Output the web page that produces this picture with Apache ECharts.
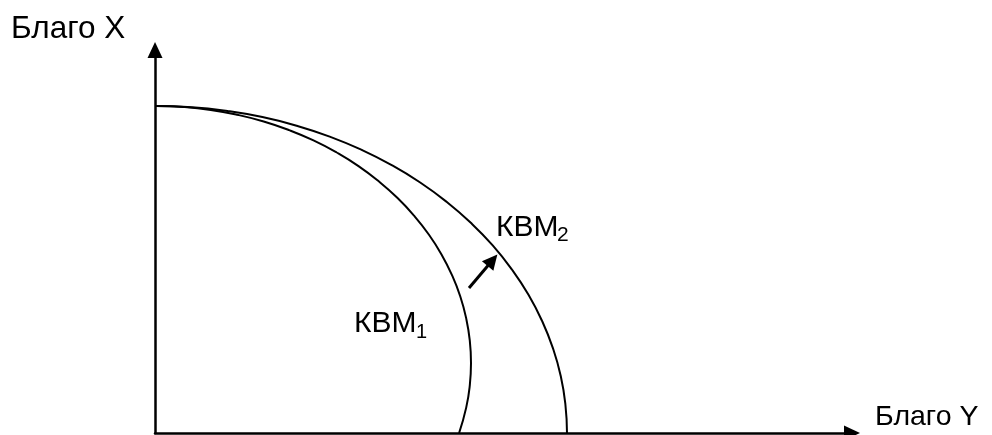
<!DOCTYPE html>
<html>
<head>
<meta charset="utf-8">
<script src="https://cdn.jsdelivr.net/npm/echarts@6/dist/echarts.min.js"></script>
<style>html,body{margin:0;padding:0;background:#fff;}#c{width:992px;height:435px;}</style>
</head>
<body>
<div id="c"></div>
<script>
// Curve КВМ1 (inner): [good Y, good X]
const curve1 = [[1,327],[28.5,326.0],[55.7,323.1],[82.5,318.2],[108.7,311.5],[134.1,302.9],[158.5,292.6],[181.7,280.5],[203.5,266.9],[223.7,251.7],[242.3,235.2],[259.0,217.4],[273.8,198.5],[286.5,178.6],[297.0,157.9],[305.3,136.5],[311.2,114.6],[314.8,92.4],[316,70],[314.8,47.6],[311.2,25.4],[304.1,0]];
// Curve КВМ2 (outer)
const curve2 = [[1,327],[36.8,325.8],[72.4,322.0],[107.4,315.9],[141.6,307.3],[174.7,296.4],[206.5,283.2],[236.7,267.9],[265.2,250.5],[291.6,231.2],[315.8,210.2],[337.7,187.6],[356.9,163.5],[373.5,138.2],[387.2,111.8],[398.0,84.6],[405.8,56.8],[410.4,28.5],[412,0]];
// Shift arrow from КВМ1 to КВМ2
const shiftArrow = [[314,145],[337.5,172.7]];
const axisMax = {x: 697, y: 383};
const labels = {xAxis: 'Благо Y', yAxis: 'Благо X', c1: 'КВМ', c1sub: '1', c2: 'КВМ', c2sub: '2'};

const chart = echarts.init(document.getElementById('c'));
const font = '"Liberation Sans", Arial, sans-serif';
const axisCommon = {
  type: 'value', min: 0,
  axisLine: {show: true, onZero: false, lineStyle: {color: '#000', width: 2.5}, symbol: ['none', 'triangle'], symbolSize: [15, 16]},
  axisTick: {show: false}, axisLabel: {show: false}, splitLine: {show: false}
};
function txt(text, x, y, size) {
  return {type: 'text', x: x, y: y, style: {text: text, fontSize: size, fontFamily: font, fill: '#000', align: 'left', verticalAlign: 'middle'}};
}
chart.setOption({
  animation: false,
  backgroundColor: '#fff',
  grid: {left: 155, right: 140, top: 50, bottom: 2},
  xAxis: Object.assign({}, axisCommon, {max: axisMax.x}),
  yAxis: Object.assign({}, axisCommon, {max: axisMax.y}),
  series: [
    {type: 'line', data: curve1, smooth: true, symbol: 'none', lineStyle: {color: '#000', width: 2}},
    {type: 'line', data: curve2, smooth: true, symbol: 'none', lineStyle: {color: '#000', width: 2}},
    {type: 'lines', coordinateSystem: 'cartesian2d', symbol: ['none', 'triangle'], symbolSize: 15,
     lineStyle: {color: '#000', width: 3, opacity: 1}, itemStyle: {color: '#000'},
     data: [{coords: shiftArrow}]}
  ],
  graphic: [
    txt(labels.yAxis, 11, 29.5, 31.5),
    txt(labels.xAxis, 875, 417, 28.5),
    txt(labels.c2, 496, 227.5, 30),
    txt(labels.c2sub, 557, 235.5, 21),
    txt(labels.c1, 354, 324, 30),
    txt(labels.c1sub, 416, 332.5, 20)
  ]
});
</script>
</body>
</html>
